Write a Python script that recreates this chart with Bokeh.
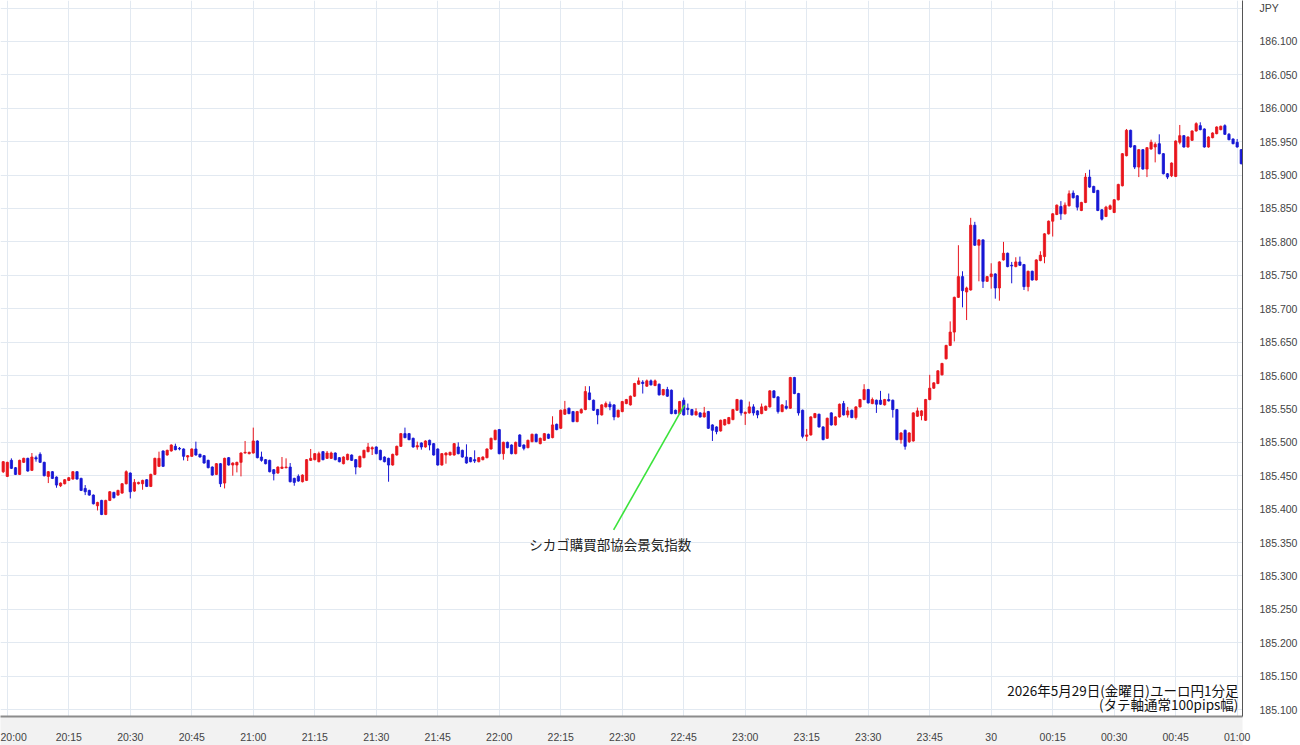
import numpy as np
from bokeh.plotting import figure
from bokeh.models import ColumnDataSource, FixedTicker, Range1d, NumeralTickFormatter
from bokeh.core.properties import value
from bokeh.embed import file_html
from bokeh.resources import INLINE

# ---------------- data (EUR/JPY 1-minute candles, 2026-05-29 19:59 -> 05-30 01:01) ----------------
# minutes after 20:00 for each candle
minutes = list(range(-1, 302))
# prices given as thousandths of a yen above 185.000  (price = 185 + v/1000)
opens = [456,449,473,462,452,470,476,458,477,482,470,449,456,448,435,438,443,445,456,446,
         431,428,421,405,413,392,413,425,421,424,438,454,427,438,438,444,434,452,464,487,
         481,487,494,491,490,478,479,490,482,480,473,463,452,468,439,477,466,466,470,484,
         483,484,502,478,474,473,459,454,461,462,463,446,449,441,443,473,474,471,486,476,
         476,484,477,468,474,481,474,463,477,486,490,493,488,478,476,466,481,494,513,513,
         506,493,499,493,503,498,490,466,481,481,481,493,488,478,477,474,471,474,477,490,
         504,519,483,500,496,483,511,496,492,501,512,498,503,512,507,527,521,542,551,546,
         531,544,549,574,563,549,541,553,557,556,538,546,558,556,569,587,590,584,592,585,
         587,571,579,578,548,543,563,551,549,541,544,538,546,526,523,517,526,528,534,548,
         563,543,544,553,547,543,548,553,577,568,546,554,551,597,573,548,509,511,537,542,
         523,506,544,526,538,558,541,548,537,553,564,579,558,563,563,556,564,563,549,504,
         518,501,502,539,540,533,564,581,588,601,625,645,665,717,748,725,728,825,795,803,
         741,748,752,731,773,783,765,763,770,766,733,756,743,772,778,812,831,841,853,842,
         854,873,869,847,859,897,883,877,848,838,849,844,863,884,929,967,944,912,938,909,
         939,942,947,932,902,899,898,949,959,942,952,966,974,969,942,956,962,968,974,961,
         954,949,938]
highs = [472,471,476,463,474,477,477,484,480,485,471,457,457,449,440,445,448,457,457,447,
         436,429,422,411,414,414,427,426,429,439,458,455,445,441,444,445,453,477,486,488,
         489,497,498,493,491,481,491,501,483,481,474,464,469,469,477,478,470,471,485,502,
         486,522,503,486,475,474,460,464,478,476,469,447,452,452,475,490,484,486,487,487,
         486,485,478,479,483,482,475,480,489,499,494,494,489,479,477,483,495,514,522,514,
         507,501,500,503,504,499,491,484,485,486,499,500,489,497,478,488,478,479,491,507,
         519,520,501,501,497,501,512,497,504,513,513,507,514,513,539,528,549,562,552,547,
         547,551,584,584,564,550,557,561,561,557,549,562,565,570,589,597,593,594,594,594,
         588,580,583,579,549,562,567,558,550,551,545,553,547,527,524,534,535,538,550,565,
         564,546,561,557,548,558,555,578,578,569,557,563,598,598,574,549,520,539,544,543,
         524,537,545,539,558,562,553,549,554,565,587,580,567,564,577,565,573,564,550,515,
         519,515,545,552,548,565,601,590,608,619,646,681,718,795,756,733,836,830,804,804,
         749,768,753,771,800,784,770,777,778,767,757,757,774,786,813,832,843,856,861,859,
         877,877,870,860,903,908,884,878,849,854,856,864,887,933,969,968,945,939,939,942,
         953,949,961,933,903,919,952,975,960,958,967,979,979,970,958,964,973,974,976,963,
         955,954,939]
lows = [454,448,460,451,451,469,456,457,471,469,449,439,445,432,433,437,442,444,444,427,
        421,420,407,398,391,391,412,416,420,423,437,416,426,437,429,433,433,451,463,463,
        480,486,488,488,473,472,478,480,477,468,461,450,451,433,431,465,450,455,449,483,
        482,483,476,471,467,455,443,453,460,461,440,435,441,440,442,472,473,470,473,475,
        475,473,470,467,473,472,452,462,476,485,481,482,473,470,441,465,480,493,506,503,
        492,489,489,492,488,480,465,465,468,480,480,482,477,468,470,469,470,473,476,489,
        503,482,474,491,482,482,493,488,491,500,500,497,502,505,506,518,520,541,542,530,
        530,543,548,563,547,527,540,552,548,533,537,545,557,555,568,586,573,583,585,584,
        570,570,568,542,542,542,540,541,540,540,537,537,520,502,512,516,525,527,533,547,
        540,526,543,540,536,542,547,552,566,543,545,549,550,572,540,506,502,510,536,522,
        503,505,525,525,537,540,537,536,534,552,563,558,557,544,556,555,561,537,503,498,
        489,499,501,538,533,532,563,580,587,600,624,644,651,716,702,683,727,794,741,731,
        740,730,715,712,772,762,738,762,764,728,726,742,742,771,768,811,808,840,833,841,
        853,865,847,846,858,881,873,846,832,837,848,843,862,883,928,941,909,897,908,897,
        938,919,931,901,894,897,897,946,941,941,951,965,967,941,941,955,961,967,960,952,
        946,941,916]
closes = [471,470,461,452,473,476,457,478,475,470,450,456,446,436,439,444,447,456,445,428,
          426,421,408,410,392,413,426,417,428,438,456,426,440,440,443,434,452,476,476,464,
          488,496,489,490,479,480,490,481,478,469,462,451,468,438,476,466,469,470,484,485,
          485,502,477,473,468,456,453,463,463,463,441,440,442,451,474,476,483,483,474,484,
          484,474,471,478,482,473,463,479,488,493,492,483,474,471,466,482,494,513,507,504,
          493,495,493,502,496,481,466,483,484,485,498,483,478,469,471,472,477,478,490,506,
          518,483,500,492,483,500,494,491,503,512,501,506,513,506,526,519,548,549,543,531,
          546,549,576,564,548,541,556,558,553,538,548,561,564,569,588,592,588,592,586,592,
          571,579,569,543,543,561,541,549,541,546,538,544,521,518,516,533,534,537,549,564,
          544,545,553,544,541,553,554,577,567,546,556,551,597,573,544,509,511,538,543,523,
          504,536,526,538,557,541,547,537,553,564,579,559,564,557,557,564,562,549,504,514,
          494,514,544,547,547,564,581,589,607,618,645,665,717,748,727,731,825,795,803,741,
          748,752,731,770,783,763,764,770,765,733,756,743,773,780,812,831,842,855,842,855,
          872,866,852,859,897,882,874,847,834,852,854,863,886,932,967,942,912,938,909,941,
          949,946,932,902,897,918,951,959,942,957,966,977,968,942,957,963,972,973,961,953,
          947,942,917]

time_ticks = [0, 15, 30, 45, 60, 75, 90, 105, 120, 135, 150, 165, 180, 195, 210, 225,
              240, 255, 270, 285, 300]
time_labels = ["20:00", "20:15", "20:30", "20:45", "21:00", "21:15", "21:30", "21:45",
               "22:00", "22:15", "22:30", "22:45", "23:00", "23:15", "23:30", "23:45",
               "30", "00:15", "00:30", "00:45", "01:00"]
price_ticks = [185.10, 185.15, 185.20, 185.25, 185.30, 185.35, 185.40, 185.45, 185.50,
               185.55, 185.60, 185.65, 185.70, 185.75, 185.80, 185.85, 185.90, 185.95,
               186.00, 186.05, 186.10, 186.15]
currency = "JPY"          # unit label shown at the top of the price scale
currency_tick = 186.15

event_label = "シカゴ購買部協会景気指数"
event_text_pos = (147.1, 185.348)
event_line_x = [147.9, 165.2]
event_line_y = [185.369, 185.556]

note_lines = ["2026年5月29日(金曜日)ユーロ円1分足", "(タテ軸通常100pips幅)"]
note_x = [300.3, 300.3]
note_y = [185.130, 185.109]

# ---------------- build ----------------
UP, DOWN = "#e8141c", "#1717d4"
o = 185 + np.array(opens) / 1000
h = 185 + np.array(highs) / 1000
l = 185 + np.array(lows) / 1000
c = 185 + np.array(closes) / 1000
colors = [UP if cc >= oo else DOWN for oo, cc in zip(o, c)]

src = ColumnDataSource(dict(t=minutes, o=o, h=h, l=l, c=c,
                            top=np.maximum(o, c), bot=np.minimum(o, c), col=colors))

p = figure(width=1300, height=745, output_backend="svg", toolbar_location=None,
           x_range=Range1d(-1.66, 301.3), y_range=Range1d(185.0896, 186.1613),
           y_axis_location="right", min_border_left=0, min_border_top=0,
           min_border_right=58, min_border_bottom=28)
p.outline_line_color = None
p.background_fill_color = "white"
p.border_fill_color = "white"

p.xgrid.ticker = FixedTicker(ticks=time_ticks)
p.ygrid.ticker = FixedTicker(ticks=price_ticks)
for g in (p.xgrid, p.ygrid):
    g.grid_line_color = "#e2e9f1"
    g.grid_line_width = 1

p.segment(x0="t", y0="l", x1="t", y1="h", color="col", line_width=1, source=src)
p.vbar(x="t", width=0.55, top="top", bottom="bot", fill_color="col", line_color="col",
       line_width=0.8, source=src)

# event annotation
p.line(x=event_line_x, y=event_line_y, line_color="#3be33b", line_width=1.6)
p.text(x=[event_text_pos[0]], y=[event_text_pos[1]], text=[event_label],
       text_font=value("Noto Sans CJK JP"), text_font_size="13.5px", text_color="#222222",
       text_align="center", text_baseline="middle")

# bottom-right note
p.text(x=note_x, y=note_y, text=note_lines, text_font=value("Noto Sans CJK JP"),
       text_font_size="13.5px", text_color="#111111", text_align="right",
       text_baseline="middle")

# axes
xa = p.xaxis[0]
xa.ticker = FixedTicker(ticks=time_ticks)
xa.major_label_overrides = {t: s for t, s in zip(time_ticks, time_labels)}
xa.axis_line_color = "#8c8c8c"
xa.axis_line_width = 2
xa.major_tick_line_color = None
xa.minor_tick_line_color = None
xa.major_label_standoff = 8
xa.major_label_text_font = "Liberation Sans"
xa.major_label_text_font_size = "10.5px"
xa.major_label_text_color = "#444444"
xa.background_fill_color = "#f2f2f2"

ya = p.yaxis[0]
ya.ticker = FixedTicker(ticks=price_ticks)
ya.formatter = NumeralTickFormatter(format="0.000")
ya.major_label_overrides = {currency_tick: currency}
ya.axis_line_color = "#555555"
ya.axis_line_width = 1
ya.major_tick_line_color = None
ya.minor_tick_line_color = None
ya.major_label_standoff = 11
ya.major_label_text_font = "Liberation Sans"
ya.major_label_text_font_size = "10.5px"
ya.major_label_text_color = "#444444"

open("out.html", "w").write(file_html(p, INLINE))
